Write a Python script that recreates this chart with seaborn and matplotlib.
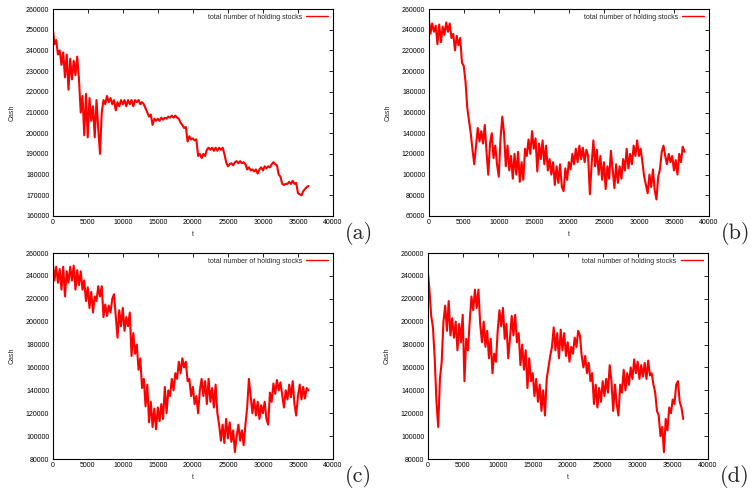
"""Recreate the four cash time-series panels (gnuplot look) with seaborn."""
import numpy as np
import pandas as pd
import matplotlib
matplotlib.use('Agg')
import matplotlib.pyplot as plt
import seaborn as sns

T_STEP = 250  # sampling step of the values

# values in thousands, one every T_STEP starting at t = 0
CASH_A = [251, 243, 245, 238, 240, 233, 239, 227, 238, 221, 236, 226, 235, 228, 237, 226,
          210, 218, 199, 219, 198, 217, 206, 213, 198, 216, 202, 190, 210, 216, 214, 218,
          215, 217, 214, 216, 211, 215, 213, 216, 214, 216, 213, 216, 214, 216, 213, 216,
          215, 216, 214, 215, 214, 212, 210, 208, 209, 204, 207, 206, 207, 206, 207.5, 206.5,
          207.5, 207, 208, 207.5, 208.5, 207.5, 208.5, 207.5, 207, 205, 204, 202.5, 203, 196,
          198.5, 197, 197.5, 196.5, 197, 189, 190, 188, 190, 189, 192, 193, 192, 193,
          191.5, 193, 191.5, 193, 192, 193, 190, 186, 184, 185, 185.5, 184.5, 186, 186.5,
          185.5, 186.5, 185.5, 186, 185, 182.5, 183.5, 182, 182.5, 181.5, 182.5, 180.5, 182.5, 183.5,
          182, 184, 183, 184, 183.5, 185, 186, 185, 184.5, 180, 179, 175.5, 175, 175.5,
          175.5, 176.5, 175.5, 177, 175.5, 176, 171, 170.5, 170, 172, 173, 174, 174.5]

CASH_B = [252, 236, 246, 238, 244, 226, 245, 228, 243, 235, 247, 238, 246, 232, 236, 220,
          234, 225, 232, 208, 205, 190, 165, 152, 140, 124, 110, 128, 145, 132, 142, 130,
          148, 122, 100, 130, 140, 116, 128, 110, 98, 135, 156, 140, 108, 128, 104, 118,
          96, 120, 100, 122, 93, 112, 95, 125, 118, 134, 120, 142, 125, 135, 103, 130,
          115, 133, 110, 128, 104, 115, 100, 112, 90, 108, 92, 110, 88, 84, 106, 95,
          112, 105, 120, 110, 125, 112, 128, 115, 126, 112, 124, 118, 81, 110, 133, 108,
          124, 100, 118, 95, 112, 86, 108, 96, 123, 105, 87, 110, 92, 108, 96, 115,
          104, 125, 106, 120, 110, 128, 118, 133, 118, 125, 112, 98, 90, 82, 100, 88,
          105, 85, 76, 98, 105, 122, 128, 118, 110, 120, 112, 118, 104, 114, 100, 120,
          112, 127, 122]

CASH_C = [252, 236, 248, 234, 246, 228, 248, 222, 244, 234, 248, 236, 249, 228, 245, 232,
          244, 228, 236, 218, 230, 212, 226, 208, 222, 218, 231, 222, 231, 204, 215, 205,
          214, 208, 220, 224, 205, 186, 210, 196, 212, 192, 204, 196, 208, 170, 190, 172,
          180, 158, 168, 142, 150, 126, 145, 112, 130, 108, 124, 106, 125, 113, 128, 115,
          143, 120, 140, 135, 150, 140, 155, 150, 165, 155, 168, 160, 165, 148, 150, 135,
          143, 128, 135, 120, 140, 150, 135, 148, 128, 150, 130, 142, 125, 145, 120, 110,
          96, 110, 94, 115, 98, 112, 95, 105, 86, 100, 110, 96, 105, 92, 110, 125,
          150, 135, 120, 132, 118, 130, 115, 127, 120, 130, 115, 110, 138, 130, 146, 137,
          149, 140, 147, 136, 125, 140, 132, 145, 134, 148, 128, 118, 135, 145, 132, 143,
          133, 142, 140]

CASH_D = [245, 228, 205, 195, 168, 130, 108, 150, 165, 200, 214, 192, 218, 188, 203, 186,
          200, 175, 198, 182, 206, 148, 185, 175, 200, 222, 210, 228, 212, 228, 198, 182,
          200, 178, 192, 168, 185, 155, 172, 165, 192, 210, 196, 212, 185, 198, 168, 185,
          205, 188, 206, 182, 190, 162, 180, 158, 175, 142, 168, 148, 155, 135, 150, 130,
          145, 122, 140, 118, 150, 160, 170, 178, 195, 175, 190, 168, 193, 175, 190, 170,
          182, 165, 178, 172, 186, 178, 192, 188, 170, 160, 170, 155, 164, 148, 155, 128,
          145, 125, 142, 130, 148, 135, 150, 138, 162, 148, 122, 145, 128, 118, 145, 138,
          158, 140, 155, 145, 160, 150, 167, 155, 165, 150, 162, 152, 164, 150, 166, 153,
          155, 145, 138, 122, 118, 100, 108, 86, 115, 105, 125, 120, 132, 128, 145, 148,
          130, 125, 115]

PANEL_LABELS = ['(a)', '(b)', '(c)', '(d)']
Y_RANGES = [(160000, 260000, 10000), (60000, 260000, 20000),
            (80000, 260000, 20000), (80000, 260000, 20000)]
X_TICKS = list(range(0, 40001, 5000))
LEGEND_TEXT = 'total number of holding stocks'

# axes boxes in pixels: left, right, top, bottom (figure is 752x488)
BOXES = [(52.7, 333, 9, 216), (428.7, 709, 9, 216),
         (52.7, 333, 253, 459), (427.7, 707.7, 253, 459)]
W, H = 752, 488


def make_frame(values):
    """Build a long dataframe from one series in thousands."""
    t = np.arange(len(values)) * T_STEP
    return pd.DataFrame({'t': t, 'cash': np.array(values, dtype=float) * 1000})


def draw_panel(fig, box, values, yrange, label):
    left, right, top, bottom = box
    ax = fig.add_axes([left / W, 1 - bottom / H, (right - left) / W, (bottom - top) / H])
    df = make_frame(values)
    sns.lineplot(data=df, x='t', y='cash', ax=ax, color='#ff0000', linewidth=1.5,
                 estimator=None, sort=False, label=LEGEND_TEXT)
    ymin, ymax, ystep = yrange
    ax.set_xlim(0, 40000)
    ax.set_ylim(ymin, ymax)
    ax.set_xticks(X_TICKS)
    ax.set_yticks(list(range(ymin, ymax + 1, ystep)))
    ax.tick_params(direction='in', top=True, right=True, length=3, width=0.6,
                   labelsize=5, pad=2.5, colors='black')
    ax.set_xlabel('t', fontsize=5, labelpad=3)
    ax.set_ylabel('Cash', fontsize=5, labelpad=7)
    for s in ax.spines.values():
        s.set_linewidth(0.8)
        s.set_color('black')
    leg = ax.legend(loc='upper right', frameon=False, fontsize=5, markerfirst=False,
                    handlelength=3.2, handletextpad=0.6, borderaxespad=0.3)
    for h in leg.get_lines():
        h.set_linewidth(1.0)
    fig.text((right + 12) / W, 1 - (bottom + 17) / H, label, family='cmr10',
             fontsize=16, ha='left', va='center')
    return ax


def main():
    sns.set_style('white')
    plt.rcParams['font.family'] = ['Liberation Sans', 'DejaVu Sans']
    fig = plt.figure(figsize=(7.52, 4.88), dpi=100)
    series = [CASH_A, CASH_B, CASH_C, CASH_D]
    for box, values, yrange, label in zip(BOXES, series, Y_RANGES, PANEL_LABELS):
        draw_panel(fig, box, values, yrange, label)
    fig.savefig('out.png', dpi=100)
    plt.close(fig)


if __name__ == '__main__':
    main()
